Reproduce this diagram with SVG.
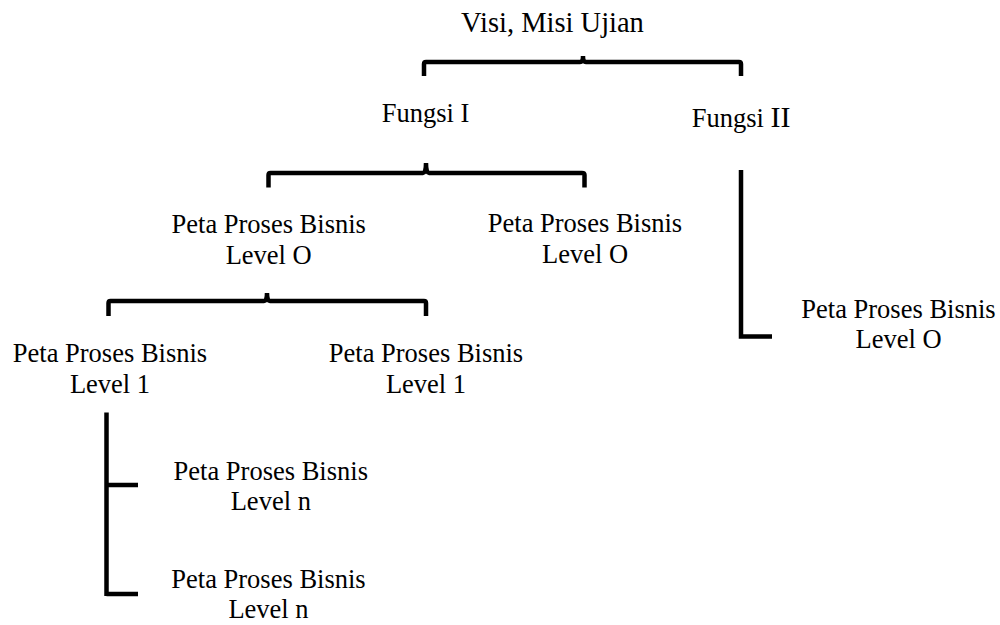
<svg xmlns="http://www.w3.org/2000/svg" width="1000" height="625" viewBox="0 0 1000 625" font-family="Liberation Serif, serif">
<style>
text{font-size:26.5px;fill:#000;text-anchor:middle}
.title{font-size:28.5px}
.conn path{fill:none;stroke:#000;stroke-width:4.5;stroke-linecap:butt;stroke-linejoin:miter}
</style>
<rect width="1000" height="625" fill="#fff"/>
<g class="conn" id="connectors">
<path d="M424,76 V64 Q424,62 426,62 H580 Q583,62 583,56 M583,56 Q583,62 586,62 H739 Q741,62 741,64 V76"/>
<path d="M268.5,187.5 V175 Q268.5,173 270.5,173 H423 Q426,173 426,163 M426,163 Q426,173 429,173 H582 Q584.5,173 584.5,175 V187.5"/>
<path d="M108.5,316 V303 Q108.5,301 110.5,301 H264 Q267,301 267,293 M267,293 Q267,301 270,301 H424 Q426,301 426,303 V316"/>
<path d="M741,170 V336.5 H772"/>
<path d="M106.5,412.5 V596 M106.5,485 H138 M106.5,594 H138"/>
</g>
<g id="n-visi"><text class="title" x="552.5" y="32" font-family="Liberation Serif">Visi, Misi Ujian</text></g>
<g id="n-fungsi1"><text x="425.5" y="122" font-family="Liberation Serif">Fungsi I</text></g>
<g id="n-fungsi2"><text x="691.7" y="127" style="text-anchor:start" font-family="Liberation Serif">Fungsi <tspan style="font-size:30px">II</tspan></text></g>
<g id="n-l0a" font-family="Liberation Serif"><text x="268.7" y="233">Peta Proses Bisnis</text><text x="268.7" y="264">Level O</text></g>
<g id="n-l0b" font-family="Liberation Serif"><text x="585" y="231.7">Peta Proses Bisnis</text><text x="585" y="262.7">Level O</text></g>
<g id="n-l0c" font-family="Liberation Serif"><text x="898.5" y="318">Peta Proses Bisnis</text><text x="898.5" y="348.3">Level O</text></g>
<g id="n-l1a" font-family="Liberation Serif"><text x="110" y="361.7">Peta Proses Bisnis</text><text x="110" y="392.7">Level 1</text></g>
<g id="n-l1b" font-family="Liberation Serif"><text x="426" y="361.7">Peta Proses Bisnis</text><text x="426" y="392.7">Level 1</text></g>
<g id="n-lna" font-family="Liberation Serif"><text x="270.8" y="480">Peta Proses Bisnis</text><text x="270.8" y="510">Level n</text></g>
<g id="n-lnb" font-family="Liberation Serif"><text x="268.5" y="588">Peta Proses Bisnis</text><text x="268.5" y="618.3">Level n</text></g>
</svg>
